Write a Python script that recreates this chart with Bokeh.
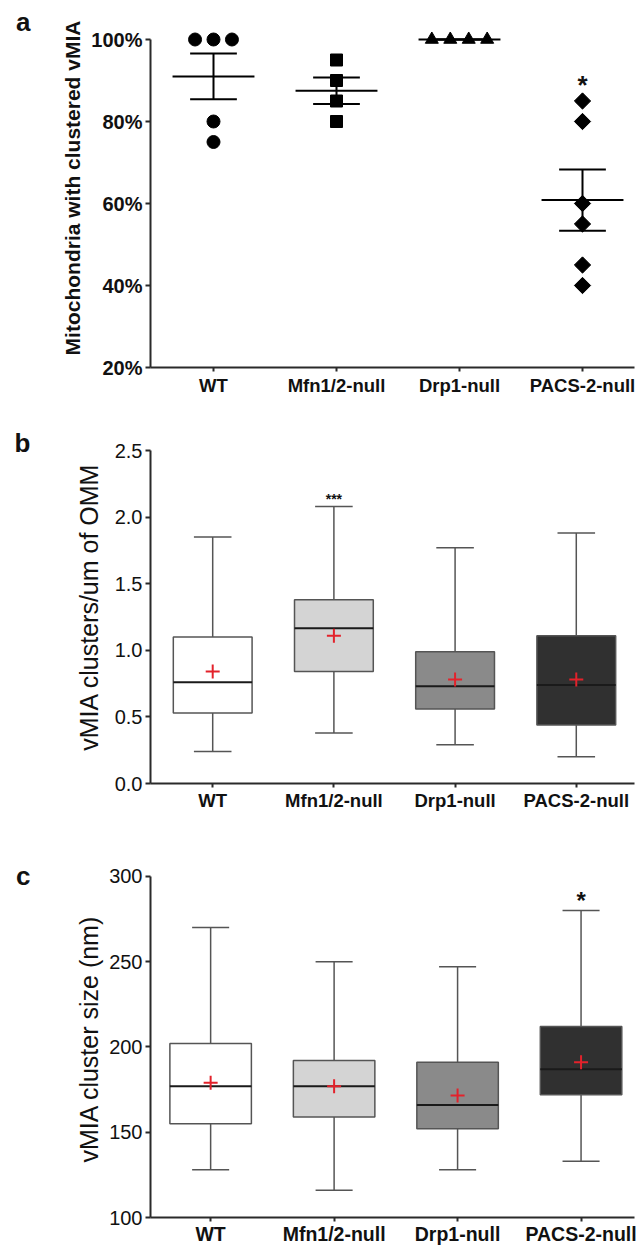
import numpy as np
from collections import Counter
from bokeh.plotting import figure
from bokeh.layouts import column
from bokeh.models import FixedTicker, PrintfTickFormatter, Range1d, LinearAxis
from bokeh.core.properties import value
from bokeh.embed import file_html
from bokeh.resources import INLINE

FONT = "Liberation Sans"

categories = ["WT", "Mfn1/2-null", "Drp1-null", "PACS-2-null"]

# ---- panel a: % mitochondria with clustered vMIA (individual values)
a_wt = [100, 100, 100, 80, 75]
a_mfn = [95, 90, 85, 80]
a_drp = [100, 100, 100, 100]
a_pacs = [85, 80, 60, 55, 45, 40]
a_ticks = [20, 40, 60, 80, 100]
a_sig = ["", "", "", "*"]

# ---- panel b: vMIA clusters / um of OMM (box plot stats)
b_lower = [0.24, 0.38, 0.29, 0.20]
b_q1 = [0.53, 0.84, 0.56, 0.44]
b_median = [0.76, 1.165, 0.73, 0.74]
b_q3 = [1.10, 1.38, 0.99, 1.11]
b_upper = [1.85, 2.08, 1.77, 1.88]
b_mean = [0.84, 1.11, 0.78, 0.78]
b_ticks = [0.0, 0.5, 1.0, 1.5, 2.0, 2.5]
b_sig = ["", "***", "", ""]

# ---- panel c: vMIA cluster size (nm) (box plot stats)
c_lower = [128, 116, 128, 133]
c_q1 = [155, 159, 152, 172]
c_median = [177, 177, 166, 187]
c_q3 = [202, 192, 191, 212]
c_upper = [270, 250, 247, 280]
c_mean = [179, 177, 171.5, 191]
c_ticks = [100, 150, 200, 250, 300]
c_sig = ["", "", "", "*"]

# styles
box_fill = ["#ffffff", "#d4d4d4", "#8a8a8a", "#303030"]
markers = ["circle", "square", "triangle", "square"]
marker_angle = [0, 0, 0, np.pi / 4]
marker_size = [13, 12, 13, 11.5]

W = 641


def base_fig(fig_top, fig_h, f_top, f_bottom, f_left, f_right, cat0, step, ybounds, ppu):
    x0 = (f_left - cat0) / step
    x1 = (f_right - cat0) / step
    y0 = ybounds[0]
    y1 = y0 + (f_bottom - f_top) / ppu
    p = figure(width=W, height=fig_h, output_backend="svg", toolbar_location=None,
               title=None, tools="", x_range=Range1d(x0, x1), y_range=Range1d(y0, y1),
               min_border_top=f_top - fig_top, min_border_bottom=fig_top + fig_h - f_bottom,
               min_border_left=f_left, min_border_right=W - f_right)
    p.outline_line_color = None
    p.xgrid.visible = False
    p.ygrid.visible = False
    p.background_fill_color = "white"
    p.border_fill_color = "white"
    for ax in (p.xaxis, p.yaxis):
        ax.axis_line_width = 2
        ax.axis_line_color = "#2a2a2a"
        ax.major_tick_line_width = 2
        ax.major_tick_line_color = "#2a2a2a"
        ax.minor_tick_line_color = None
        ax.major_tick_in = 0
        ax.major_label_text_font = FONT
        ax.major_label_text_color = "#111111"
        ax.axis_label_text_font = FONT
        ax.axis_label_text_color = "#111111"
    p.yaxis.bounds = ybounds
    p.xaxis.ticker = FixedTicker(ticks=list(range(len(categories))))
    p.xaxis.major_label_overrides = {i: c for i, c in enumerate(categories)}
    p.xaxis.major_label_text_font_style = "bold"
    p.xaxis.major_tick_out = 4
    p.xaxis.axis_label_standoff = 0
    p.yaxis.major_tick_out = 5
    p.yaxis.major_label_standoff = 3
    geo = dict(f_bottom=f_bottom, ppu=ppu, y0=y0)
    return p, geo


def panel_letter(p, geo, letter, mid_py, standoff):
    # the panel letter is drawn as the only label of an extra, line-less left axis
    y = round(geo["y0"] + (geo["f_bottom"] - mid_py) / geo["ppu"], 3)
    ax = LinearAxis(ticker=FixedTicker(ticks=[y]), major_label_overrides={y: letter},
                    axis_line_color=None, major_tick_line_color=None,
                    minor_tick_line_color=None, major_tick_out=0, major_tick_in=0,
                    major_label_standoff=standoff, major_label_text_font=FONT,
                    major_label_text_font_style="bold", major_label_text_font_size="26px",
                    major_label_text_color="#111111")
    p.add_layout(ax, "left")


def stars(p, geo, sig, tops, gap_px, size):
    xs, ys, ts = [], [], []
    for i, s in enumerate(sig):
        if s:
            xs.append(i)
            ys.append(tops[i] + gap_px / geo["ppu"])
            ts.append(s)
    p.text(x=xs, y=ys, text=ts, text_font=value(FONT), text_font_size=size,
           text_font_style="bold", text_align="center", text_baseline="alphabetic",
           text_color="#111111")


# ================= panel a =================
pa, ga = base_fig(0, 420, 8, 367, 150, 634, 213, 123, (20, 100), 4.1)
pa.yaxis.ticker = FixedTicker(ticks=a_ticks)
pa.yaxis.formatter = PrintfTickFormatter(format="%d%%")
pa.yaxis.major_label_text_font_style = "bold"
pa.yaxis.major_label_text_font_size = "20px"
pa.yaxis.axis_label = "Mitochondria with clustered vMIA"
pa.yaxis.axis_label_text_font_style = "bold"
pa.yaxis.axis_label_text_font_size = "21px"
pa.yaxis.axis_label_standoff = 4
pa.xaxis.major_label_text_font_size = "18.5px"
pa.xaxis.major_label_standoff = 3

groups = [a_wt, a_mfn, a_drp, a_pacs]
for i, vals in enumerate(groups):
    arr = np.array(vals, dtype=float)
    m = arr.mean()
    sem = arr.std(ddof=1) / np.sqrt(len(arr))
    pa.segment(x0=[i - 0.333], x1=[i + 0.333], y0=[m], y1=[m], line_color="black", line_width=2)
    pa.segment(x0=[i], x1=[i], y0=[m - sem], y1=[m + sem], line_color="black", line_width=2)
    pa.segment(x0=[i - 0.19, i - 0.19], x1=[i + 0.19, i + 0.19], y0=[m - sem, m + sem],
               y1=[m - sem, m + sem], line_color="black", line_width=2)
    counts = Counter(vals)
    seen = {}
    xs = []
    for v in vals:
        n = counts[v]
        k = seen.get(v, 0)
        seen[v] = k + 1
        xs.append(i + (k - (n - 1) / 2) * 0.15)
    pa.scatter(x=xs, y=vals, marker=markers[i], size=marker_size[i], angle=marker_angle[i],
               fill_color="black", line_color="black")

stars(pa, ga, a_sig, [max(g) for g in groups], 16, "26px")
panel_letter(pa, ga, "a", 21, 28)


# ================= box panels =================
def box_panel(p, lower, q1, med, q3, upper, mean, bw, cw):
    xs = list(range(len(categories)))
    p.segment(x0=xs, x1=xs, y0=lower, y1=q1, line_color="#555555", line_width=1.5)
    p.segment(x0=xs, x1=xs, y0=q3, y1=upper, line_color="#555555", line_width=1.5)
    p.segment(x0=[x - cw / 2 for x in xs], x1=[x + cw / 2 for x in xs], y0=lower, y1=lower,
              line_color="#555555", line_width=1.5)
    p.segment(x0=[x - cw / 2 for x in xs], x1=[x + cw / 2 for x in xs], y0=upper, y1=upper,
              line_color="#555555", line_width=1.5)
    p.vbar(x=xs, width=bw, bottom=q1, top=q3, fill_color=box_fill, line_color="#555555",
           line_width=1.5)
    p.segment(x0=[x - bw / 2 for x in xs], x1=[x + bw / 2 for x in xs], y0=med, y1=med,
              line_color="#1a1a1a", line_width=2)
    p.scatter(x=xs, y=mean, marker="cross", size=14, line_color="#e3222b", line_width=2)


# ================= panel b =================
pb, gb = base_fig(420, 408, 430, 783, 143, 641, 207, 124.7, (0, 2.5), 333 / 2.5)
pb.yaxis.ticker = FixedTicker(ticks=b_ticks)
pb.yaxis.formatter = PrintfTickFormatter(format="%.1f")
pb.yaxis.major_label_text_font_size = "20px"
pb.yaxis.axis_label = "vMIA clusters/um of OMM"
pb.yaxis.axis_label_text_font_style = "normal"
pb.yaxis.axis_label_text_font_size = "25px"
pb.yaxis.axis_label_standoff = 9
pb.xaxis.major_label_text_font_size = "18.5px"
pb.xaxis.major_label_standoff = 2
box_panel(pb, b_lower, b_q1, b_median, b_q3, b_upper, b_mean, 0.65, 0.31)
stars(pb, gb, b_sig, b_upper, 7, "14px")
panel_letter(pb, gb, "b", 443, 41)

# ================= panel c =================
pc, gc = base_fig(828, 419, 860, 1218, 142, 641, 204, 127.3, (100, 300), 342 / 200)
pc.yaxis.ticker = FixedTicker(ticks=c_ticks)
pc.yaxis.formatter = PrintfTickFormatter(format="%d")
pc.yaxis.major_label_text_font_size = "20px"
pc.yaxis.axis_label = "vMIA cluster size (nm)"
pc.yaxis.axis_label_text_font_style = "normal"
pc.yaxis.axis_label_text_font_size = "25px"
pc.yaxis.axis_label_standoff = 3
pc.xaxis.major_label_text_font_size = "19.5px"
pc.xaxis.major_label_standoff = 1
box_panel(pc, c_lower, c_q1, c_median, c_q3, c_upper, c_mean, 0.66, 0.30)
stars(pc, gc, c_sig, c_upper, 10, "24px")
panel_letter(pc, gc, "c", 876, 42)

layout = column(pa, pb, pc, spacing=0)
open("out.html", "w").write(file_html(layout, INLINE))
